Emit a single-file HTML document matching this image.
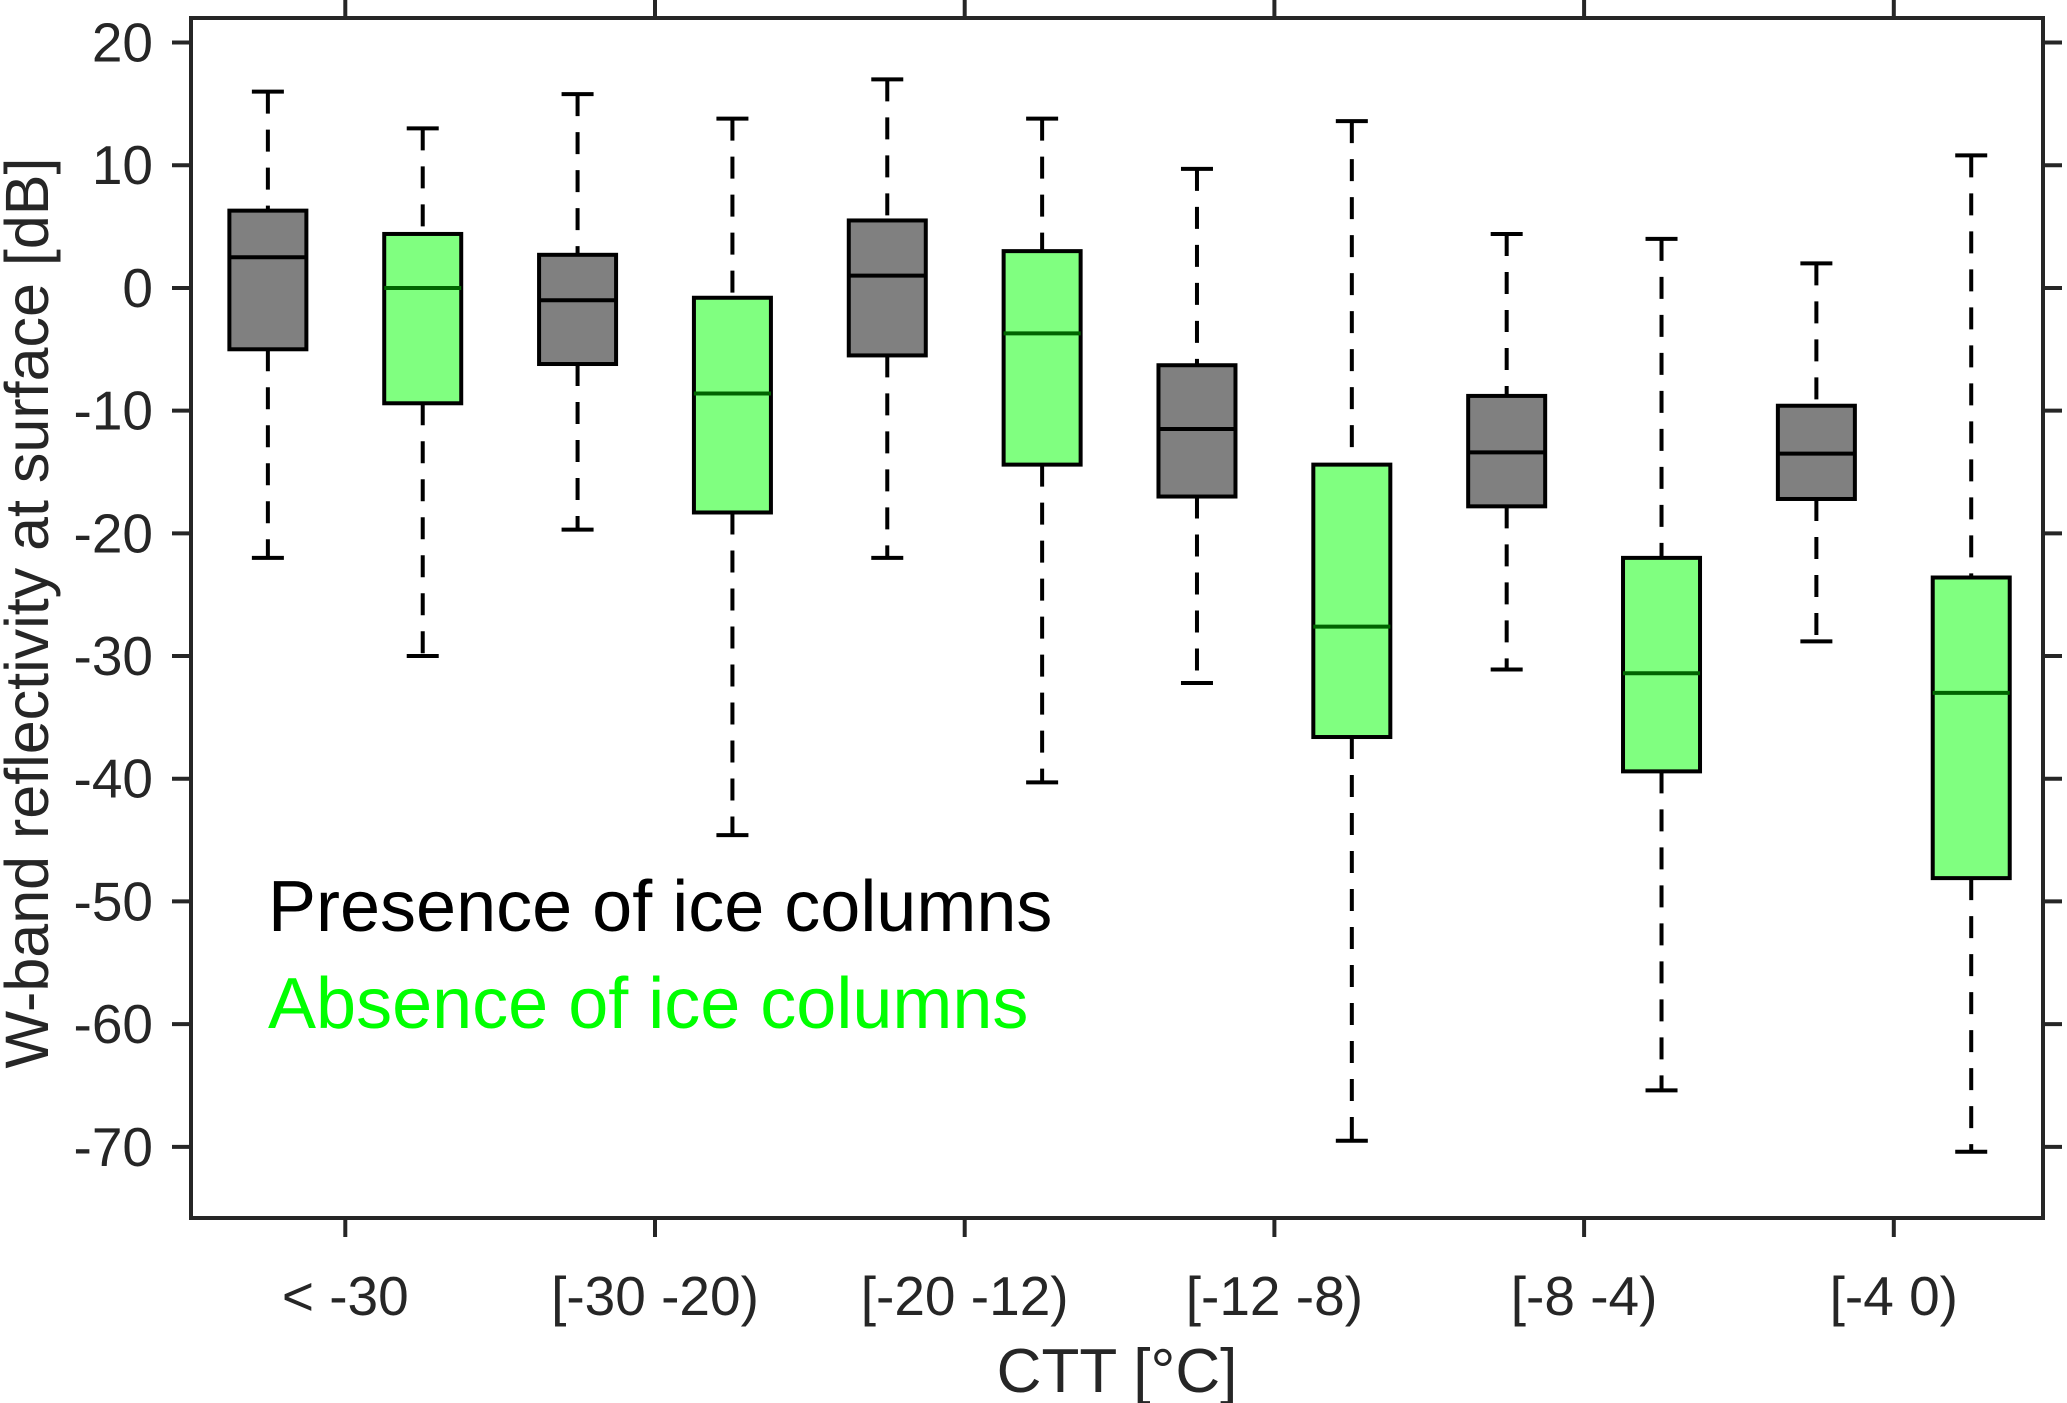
<!DOCTYPE html>
<html><head><meta charset="utf-8"><style>
html,body{margin:0;padding:0;background:#fff;}
svg{display:block;font-family:"Liberation Sans",Arial,sans-serif;}
</style></head><body>
<svg id="chart" width="2067" height="1403" viewBox="0 0 2067 1403"></svg>
<script>
const categories = ["< -30","[-30 -20)","[-20 -12)","[-12 -8)","[-8 -4)","[-4 0)"];
// [upper whisker, q3, median, q1, lower whisker]
const presence = [[16,6.3,2.5,-5,-22],[15.8,2.7,-1,-6.2,-19.7],[17,5.5,1,-5.5,-22],[9.7,-6.3,-11.5,-17,-32.2],[4.4,-8.8,-13.4,-17.8,-31.1],[2,-9.6,-13.5,-17.2,-28.8]];
const absence = [[13,4.4,0,-9.4,-30],[13.8,-0.8,-8.6,-18.3,-44.6],[13.8,3,-3.7,-14.4,-40.3],[13.6,-14.4,-27.6,-36.6,-69.5],[4,-22,-31.4,-39.4,-65.4],[10.8,-23.6,-33,-48.1,-70.4]];
const yTicks = [20,10,0,-10,-20,-30,-40,-50,-60,-70];

const NS="http://www.w3.org/2000/svg";
const svg=document.getElementById('chart');
const L=191,R=2043,T=18,B=1218;
const yMin=-75.8,yMax=22;
const y=v=>T+(yMax-v)/(yMax-yMin)*(B-T);
const x=i=>345.3+i*309.7;
function el(tag,attrs,parent){const e=document.createElementNS(NS,tag);for(const k in attrs)e.setAttribute(k,attrs[k]);(parent||svg).appendChild(e);return e;}

const plot=el('g',{});



function drawBox(i,d,off,fill,medColor,name){
  const g=el('g',{},plot);
  
  
  const cx=x(i)+off, w=77, cw=32;
  el('line',{x1:cx,x2:cx,y1:y(d[0]),y2:y(d[1]),stroke:'#000','stroke-width':4,'stroke-dasharray':'22,16'},g);
  el('line',{x1:cx,x2:cx,y1:y(d[3]),y2:y(d[4]),stroke:'#000','stroke-width':4,'stroke-dasharray':'22,16'},g);
  el('line',{x1:cx-cw/2,x2:cx+cw/2,y1:y(d[0]),y2:y(d[0]),stroke:'#000','stroke-width':4},g);
  el('line',{x1:cx-cw/2,x2:cx+cw/2,y1:y(d[4]),y2:y(d[4]),stroke:'#000','stroke-width':4},g);
  el('rect',{x:cx-w/2,y:y(d[1]),width:w,height:y(d[3])-y(d[1]),fill:fill,stroke:'#000','stroke-width':4},g);
  el('line',{x1:cx-w/2,x2:cx+w/2,y1:y(d[2]),y2:y(d[2]),stroke:medColor,'stroke-width':4},g);
}
const off=309.7/4;
categories.forEach((c,i)=>{
  drawBox(i,presence[i],-off,'#808080','#000','box-presence-'+i);
  drawBox(i,absence[i],off,'#80ff80','#006400','box-absence-'+i);
});

const ax=el('rect',{x:L,y:T,width:R-L,height:B-T,fill:'none',stroke:'#262626','stroke-width':4});


yTicks.forEach(v=>{
  el('line',{x1:L-19,x2:L,y1:y(v),y2:y(v),stroke:'#262626','stroke-width':4});
  el('line',{x1:R,x2:R+19,y1:y(v),y2:y(v),stroke:'#262626','stroke-width':4});
  const t=el('text',{x:L-38,y:y(v)+19,'font-size':55,'text-anchor':'end',fill:'#262626'});
  t.textContent=v;
  
  
});
categories.forEach((c,i)=>{
  el('line',{x1:x(i),x2:x(i),y1:B,y2:B+19,stroke:'#262626','stroke-width':4});
  el('line',{x1:x(i),x2:x(i),y1:0,y2:T,stroke:'#262626','stroke-width':4});
  const t=el('text',{x:x(i),y:1315,'font-size':55,'text-anchor':'middle',fill:'#262626'});
  t.textContent=c;
  
  
});
const xt=el('text',{x:1117,y:1392,'font-size':62,'text-anchor':'middle',fill:'#262626'});
xt.textContent='CTT [°C]';


const yt=el('text',{x:0,y:0,'font-size':61,'text-anchor':'middle',fill:'#262626',transform:'translate(48,613) rotate(-90)'});
yt.textContent='W-band reflectivity at surface [dB]';


const l1=el('text',{x:268,y:931,'font-size':72,fill:'#000'});
l1.textContent='Presence of ice columns';


const l2=el('text',{x:268,y:1028,'font-size':72,fill:'#00ff00'});
l2.textContent='Absence of ice columns';


</script>
</body></html>
